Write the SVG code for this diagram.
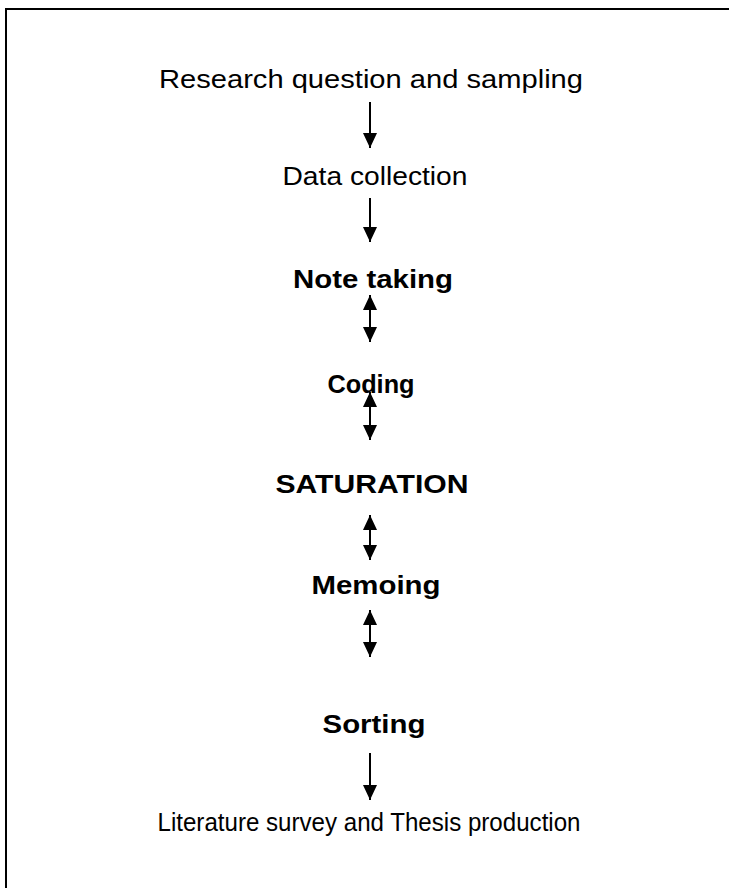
<svg xmlns="http://www.w3.org/2000/svg" width="729" height="888" viewBox="0 0 729 888">
<style>
.t{font-family:"Liberation Sans",Arial,sans-serif;font-size:25px;fill:#000;text-anchor:middle}
.b{font-weight:bold}
.c{stroke:#000;stroke-width:2;fill:none}
.f{stroke:#000;stroke-width:2;fill:none}
</style>
<defs>
<marker id="ah" markerUnits="userSpaceOnUse" markerWidth="16" markerHeight="16" refX="15" refY="7" orient="auto-start-reverse" viewBox="0 0 16 16">
<path d="M0,0 L15,7 L0,14 z" fill="#000"/>
</marker>
</defs>
<rect width="729" height="888" fill="#fff"/>
<g id="frame">
<path class="f" d="M6,888 V9 H729"/>
</g>
<g id="n1"><text class="t" x="371" y="88" textLength="424" lengthAdjust="spacingAndGlyphs">Research question and sampling</text></g>
<g id="n2"><text class="t" x="375" y="185" textLength="185" lengthAdjust="spacingAndGlyphs">Data collection</text></g>
<g id="n3"><text class="t b" x="373" y="288" textLength="160" lengthAdjust="spacingAndGlyphs">Note taking</text></g>
<g id="n4"><text class="t b" x="371" y="393" textLength="87" lengthAdjust="spacingAndGlyphs">Coding</text></g>
<g id="n5"><text class="t b" x="372" y="493" textLength="193" lengthAdjust="spacingAndGlyphs">SATURATION</text></g>
<g id="n6"><text class="t b" x="376" y="594" textLength="129" lengthAdjust="spacingAndGlyphs">Memoing</text></g>
<g id="n7"><text class="t b" x="374" y="733" textLength="103" lengthAdjust="spacingAndGlyphs">Sorting</text></g>
<g id="n8"><text class="t" x="369" y="831" textLength="423" lengthAdjust="spacingAndGlyphs">Literature survey and Thesis production</text></g>
<g id="connectors">
<line class="c" x1="370" y1="102" x2="370" y2="148" marker-end="url(#ah)"/>
<line class="c" x1="370" y1="198" x2="370" y2="242" marker-end="url(#ah)"/>
<line class="c" x1="370" y1="295" x2="370" y2="342" marker-start="url(#ah)" marker-end="url(#ah)"/>
<line class="c" x1="370" y1="392" x2="370" y2="440" marker-start="url(#ah)" marker-end="url(#ah)"/>
<line class="c" x1="370" y1="515" x2="370" y2="560" marker-start="url(#ah)" marker-end="url(#ah)"/>
<line class="c" x1="370" y1="610" x2="370" y2="657" marker-start="url(#ah)" marker-end="url(#ah)"/>
<line class="c" x1="370" y1="753" x2="370" y2="800" marker-end="url(#ah)"/>
</g>
</svg>
